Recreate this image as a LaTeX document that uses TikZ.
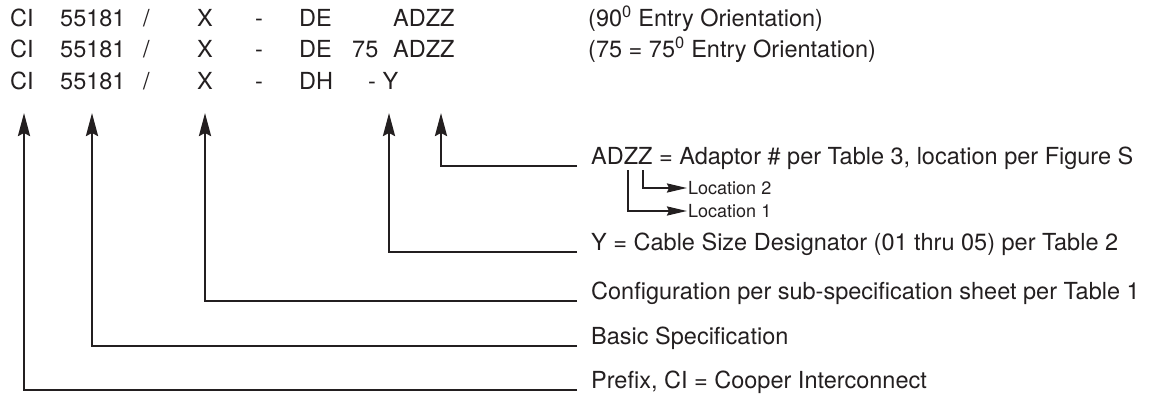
\documentclass[tikz,border=0pt]{standalone}
\usepackage{fontspec}
\setmainfont{TeX Gyre Heros}
\usetikzlibrary{arrows.meta}
\definecolor{ink}{HTML}{231F20}
\begin{document}
\begin{tikzpicture}[x=1pt,y=-1pt,
 tok/.style={anchor=base west,inner sep=0pt,font=\fontsize{23.5}{28}\selectfont,text=ink},
 lbl/.style={anchor=base west,inner sep=0pt,font=\fontsize{23.5}{28}\selectfont,text=ink},
 loc/.style={anchor=west,inner sep=0pt,font=\fontsize{18}{21}\selectfont,text=ink},
 arr/.style={draw=ink,line width=2.6pt,-{Stealth[length=23pt,width=12pt,inset=3pt]}},
 sarr/.style={draw=ink,line width=2.2pt,-{Stealth[length=20pt,width=9pt,inset=2pt]}}]
\useasboundingbox (0,0) rectangle (1163,396);
% row 1
\node[tok] (ci1) at (10,27) {CI};
\node[tok] (n1) at (60,27) {55181};
\node[tok] (s1) at (143,27) {/};
\node[tok] (x1) at (197,27) {X};
\node[tok] (d1) at (255,27) {-};
\node[tok] (de1) at (299,27) {DE};
\node[tok] (ad1) at (393,27) {ADZZ};
\node[tok] (o1) at (588,27) {(90\textsuperscript{0} Entry Orientation)};
% row 2
\node[tok] (ci2) at (10,58) {CI};
\node[tok] (n2) at (60,58) {55181};
\node[tok] (s2) at (143,58) {/};
\node[tok] (x2) at (197,58) {X};
\node[tok] (d2) at (255,58) {-};
\node[tok] (de2) at (299,58) {DE};
\node[tok] (a75) at (352,58) {75};
\node[tok] (ad2) at (393,58) {ADZZ};
\node[tok] (o2) at (588,58) {(75 = 75\textsuperscript{0} Entry Orientation)};
% row 3
\node[tok] (ci3) at (10,89) {CI};
\node[tok] (n3) at (60,89) {55181};
\node[tok] (s3) at (143,89) {/};
\node[tok] (x3) at (197,89) {X};
\node[tok] (d3) at (255,89) {-};
\node[tok] (dh3) at (299,89) {DH};
\node[tok] (y3) at (368,89) {- Y};
% labels
\node[lbl] (lAd) at (591,164) {ADZZ = Adaptor \# per Table 3, location per Figure S};
\node[loc] (lL2) at (688,188) {Location 2};
\node[loc] (lL1) at (688,211) {Location 1};
\node[lbl] (lY) at (591,250) {Y = Cable Size Designator (01 thru 05) per Table 2};
\node[lbl] (lC) at (591,299) {Configuration per sub-specification sheet per Table 1};
\node[lbl] (lB) at (591,344) {Basic Specification};
\node[lbl] (lP) at (591,388) {Prefix, CI = Cooper Interconnect};
% arrow tips
\coordinate (tCI) at (24,113);
\coordinate (tN) at (92,113);
\coordinate (tX) at (205,113);
\coordinate (tY) at (389,113);
\coordinate (tAd) at (441,113);
\coordinate (zA) at (628,170);
\coordinate (zB) at (643,170);
% connectors
\draw[arr] ([xshift=-14pt,yshift=-2pt]lAd.base west) -| (tAd);
\draw[arr] ([xshift=-14pt,yshift=-2pt]lY.base west) -| (tY);
\draw[arr] ([xshift=-14pt,yshift=-2pt]lC.base west) -| (tX);
\draw[arr] ([xshift=-14pt,yshift=-2pt]lB.base west) -| (tN);
\draw[arr] ([xshift=-14pt,yshift=-2pt]lP.base west) -| (tCI);
\draw[sarr] (zA) |- ([xshift=-1pt]lL1.west);
\draw[sarr] (zB) |- ([xshift=-1pt]lL2.west);
\end{tikzpicture}
\end{document}
